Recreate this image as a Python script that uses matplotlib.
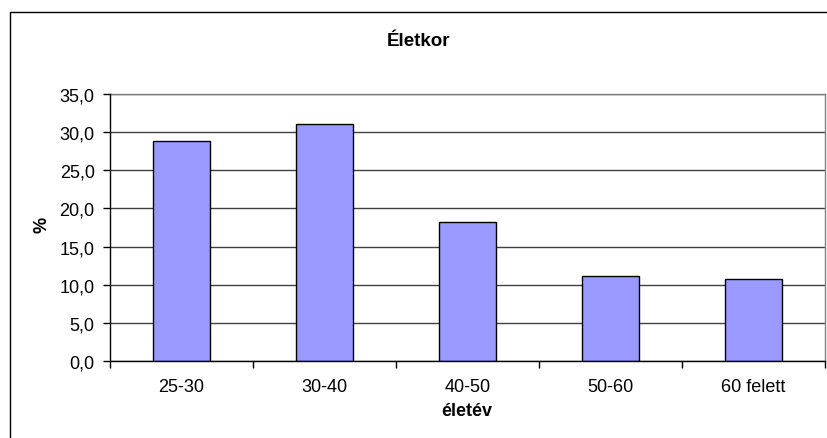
import matplotlib
matplotlib.use("Agg")
import matplotlib.pyplot as plt
from matplotlib.patches import Rectangle
from matplotlib.ticker import FixedLocator, FuncFormatter

categories = ["25-30", "30-40", "40-50", "50-60", "60 felett"]
values = [28.9, 31.1, 18.2, 11.2, 10.7]
yticks = [0, 5, 10, 15, 20, 25, 30, 35]

plt.rcParams['font.family'] = ['Liberation Sans', 'DejaVu Sans']

W, H = 827, 439
fig = plt.figure(figsize=(W / 100, H / 100), dpi=100)
fig.patch.set_facecolor('white')

# outer chart border
fig.patches.append(Rectangle((10 / W, -0.1), 1.1, (1 - 13 / H) + 0.1,
                             transform=fig.transFigure, fill=False,
                             edgecolor='black', linewidth=1.0))

ax = fig.add_axes([110 / W, (H - 362) / H, (825 - 110) / W, (362 - 95) / H])
x = range(len(categories))
ax.bar(x, values, width=0.4, color='#9999FF', edgecolor='black', linewidth=1.0, zorder=3)

ax.set_xlim(-0.5, len(categories) - 0.5)
ax.set_ylim(0, 35)
ax.set_yticks(yticks)
ax.yaxis.set_major_formatter(FuncFormatter(lambda v, p: f"{v:.1f}".replace('.', ',')))
ax.set_xticks(list(x))
ax.set_xticklabels(categories)
ax.xaxis.set_minor_locator(FixedLocator([i - 0.5 for i in range(len(categories) + 1)]))
ax.tick_params(axis='x', which='major', length=0, pad=12, labelsize=13)
ax.tick_params(axis='x', which='minor', length=5, width=1, color='black', direction='out')
ax.tick_params(axis='y', length=5, width=1, color='black', direction='out', pad=6, labelsize=13)

ax.grid(axis='y', color='#404040', linewidth=1.0, zorder=0)
for s in ['top', 'right']:
    ax.spines[s].set_color('#808080')
    ax.spines[s].set_linewidth(1.0)
for s in ['left', 'bottom']:
    ax.spines[s].set_color('black')
    ax.spines[s].set_linewidth(1.0)
    ax.spines[s].set_zorder(4)

fig.text(418 / W, 1 - 41 / H, "Életkor", ha='center', va='center', fontsize=13.5, fontweight='bold')
fig.text(42 / W, 1 - 225 / H, "%", ha='center', va='center', rotation=90, fontsize=13, fontweight='bold')
fig.text(467 / W, 1 - 412 / H, "életév", ha='center', va='center', fontsize=13, fontweight='bold')

fig.savefig("out.png", dpi=100)
